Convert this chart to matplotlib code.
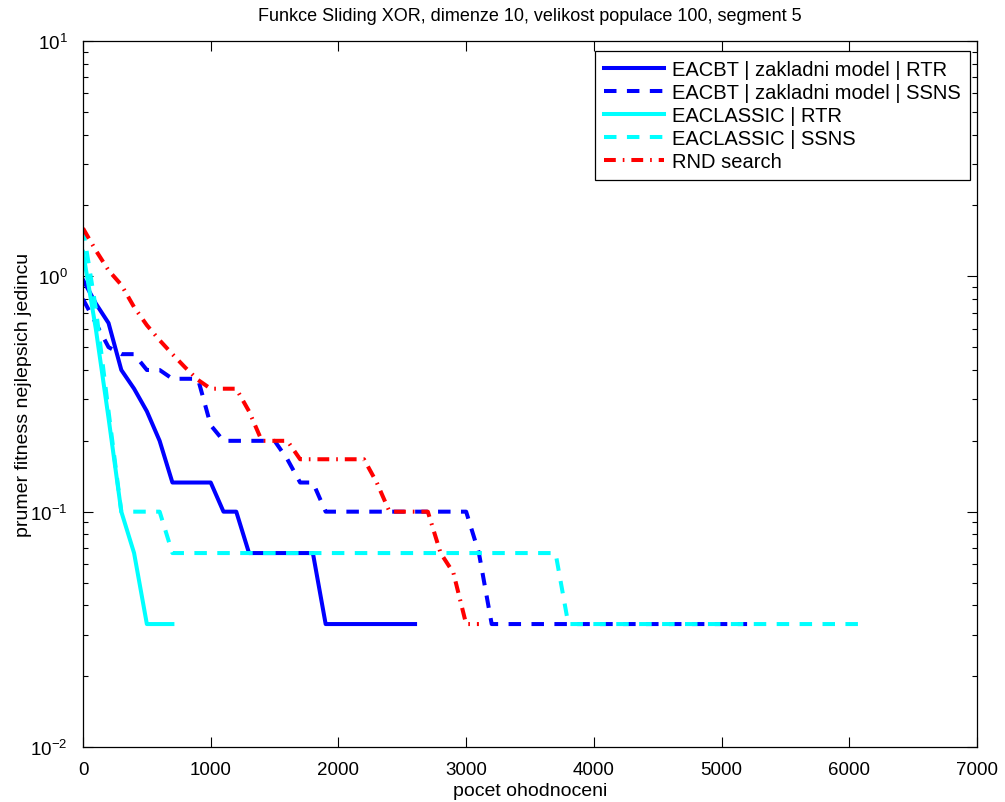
import matplotlib
matplotlib.use("Agg")
import matplotlib.pyplot as plt
from matplotlib.ticker import FixedLocator, LogLocator, NullFormatter
import numpy as np

plt.rcParams['font.family'] = ['Liberation Sans', 'DejaVu Sans']
plt.rcParams['mathtext.fontset'] = 'custom'
plt.rcParams['mathtext.rm'] = 'Liberation Sans'
plt.rcParams['mathtext.it'] = 'Liberation Sans:italic'
plt.rcParams['lines.scale_dashes'] = False

# data (evaluations vs. mean best fitness)
labels = ['EACBT | zakladni model | RTR', 'EACBT | zakladni model | SSNS',
          'EACLASSIC | RTR', 'EACLASSIC | SSNS', 'RND search']

x_cbt_rtr = list(range(0, 2700, 100))
y_cbt_rtr = [0.967, 0.767, 0.633, 0.4, 0.333, 0.267, 0.2, 0.133, 0.133, 0.133,
             0.133, 0.1, 0.1] + [0.0667] * 6 + [0.0333] * 8

x_cbt_ssns = list(range(0, 5300, 100))
y_cbt_ssns = [0.8, 0.633, 0.5, 0.467, 0.467, 0.4, 0.4, 0.367, 0.367, 0.367,
              0.233, 0.2, 0.2, 0.2, 0.2, 0.2, 0.167, 0.133, 0.133] + [0.1] * 12 \
             + [0.0667] + [0.0333] * 21

x_cls_rtr = list(range(0, 800, 100))
y_cls_rtr = [1.27, 0.6, 0.25, 0.1, 0.0667, 0.0333, 0.0333, 0.0333]

x_cls_ssns = list(range(0, 6200, 100))
y_cls_ssns = [1.6, 0.733, 0.267, 0.1, 0.1, 0.1, 0.1] + [0.0667] * 31 + [0.0333] * 24

x_rnd = list(range(0, 3200, 100))
y_rnd = [1.6, 1.29, 1.06, 0.92, 0.74, 0.62, 0.535, 0.467, 0.41, 0.363,
         0.333, 0.333, 0.333, 0.267, 0.2, 0.2, 0.2, 0.167, 0.167, 0.167,
         0.167, 0.167, 0.167, 0.133, 0.1, 0.1, 0.1, 0.1, 0.0667, 0.055,
         0.0333, 0.0333]

dash = (0, (9, 7.5))
dashdot = (0, (8.5, 5, 1.2, 5))

fig = plt.figure(figsize=(10.05, 8.03), dpi=100)
ax = fig.add_axes([83/1005, 1-748/803, 894/1005, 706/803])

lw = 2.9
ax.plot(x_cbt_rtr, y_cbt_rtr, color='#0000ff', lw=lw, label=labels[0])
ax.plot(x_cbt_ssns, y_cbt_ssns, color='#0000ff', lw=lw, linestyle=dash, label=labels[1])
ax.plot(x_cls_rtr, y_cls_rtr, color='#00ffff', lw=lw, label=labels[2])
ax.plot(x_cls_ssns, y_cls_ssns, color='#00ffff', lw=lw, linestyle=dash, label=labels[3])
ax.plot(x_rnd, y_rnd, color='#ff0000', lw=lw, linestyle=dashdot, label=labels[4])

ax.set_yscale('log')
ax.set_xlim(0, 7000)
ax.set_ylim(1e-2, 1e1)
ax.xaxis.set_major_locator(FixedLocator(np.arange(0, 7001, 1000)))
ax.yaxis.set_major_locator(LogLocator(base=10, numticks=10))
ax.yaxis.set_minor_locator(LogLocator(base=10, subs=np.arange(2, 10), numticks=10))
ax.yaxis.set_minor_formatter(NullFormatter())

for s in ax.spines.values():
    s.set_linewidth(0.9)
ax.tick_params(which='both', direction='in', top=True, right=True, labelsize=13.5, width=0.8)
ax.tick_params(which='major', length=7)
ax.tick_params(which='minor', length=3.5)
ax.tick_params(axis='y', which='major', pad=11)
ax.tick_params(axis='x', which='major', pad=10)

ax.set_title('Funkce Sliding XOR, dimenze 10, velikost populace 100, segment 5',
             fontsize=13, pad=15)
ax.set_xlabel('pocet ohodnoceni', fontsize=14, labelpad=3)
ax.set_ylabel('prumer fitness nejlepsich jedincu', fontsize=14, labelpad=-1)

leg = ax.legend(loc='upper right', bbox_to_anchor=(0.9922, 0.9858), borderaxespad=0,
                fontsize=14.5, fancybox=False, framealpha=1, edgecolor='black',
                handlelength=3.0, handletextpad=0.4, labelspacing=0.2,
                borderpad=0.45)
leg.get_frame().set_linewidth(0.9)

fig.savefig('out.png', dpi=100)
